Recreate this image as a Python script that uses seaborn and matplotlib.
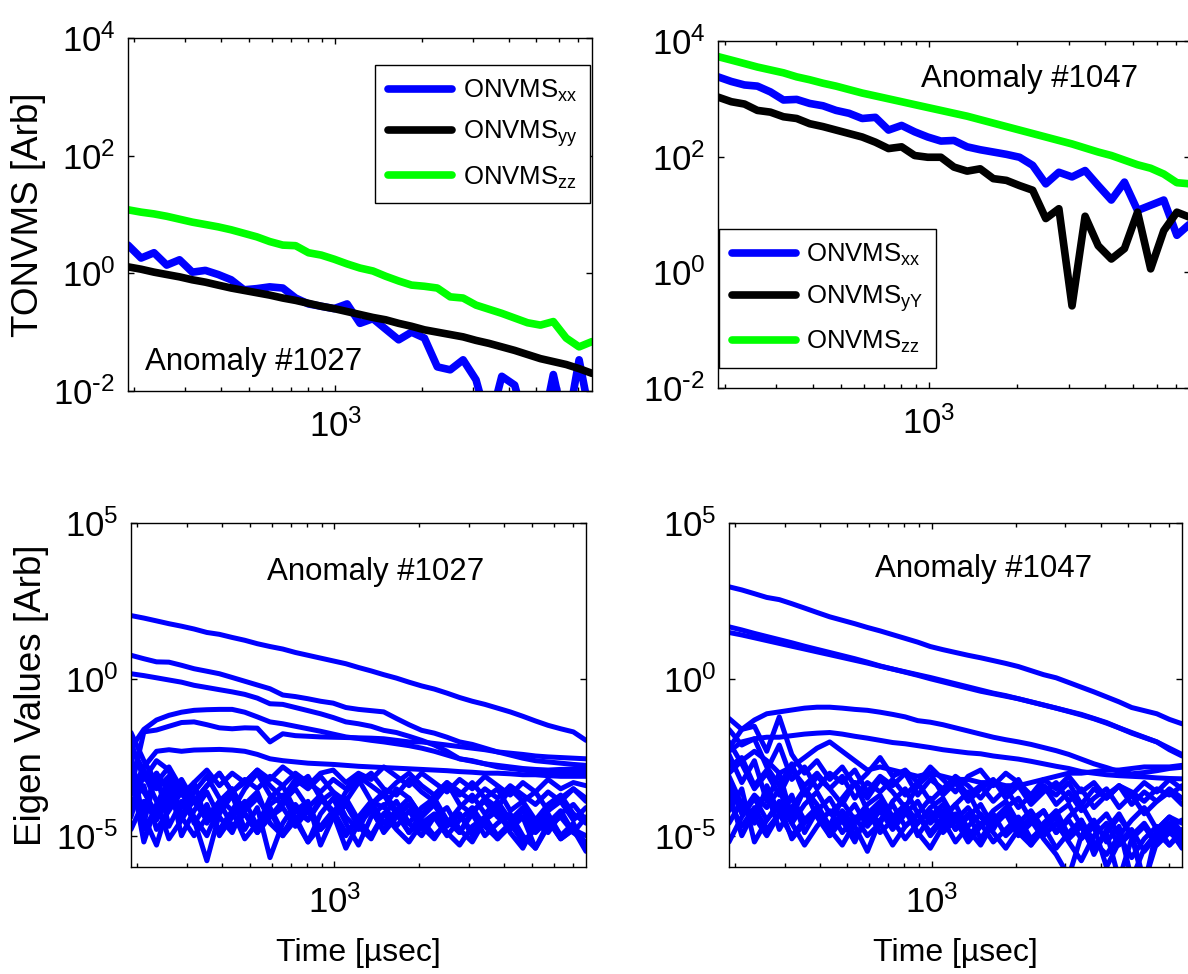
import numpy as np
import pandas as pd
import matplotlib
matplotlib.use("Agg")
import matplotlib.pyplot as plt
import seaborn as sns
from matplotlib.ticker import FixedLocator, LogLocator, NullFormatter, NullLocator, FuncFormatter

# ---------------------------------------------------------------- data
# time gates [usec]
time_us = [190, 211, 234, 259, 287, 318, 353, 391, 434, 481, 533, 591, 656, 727,
           806, 893, 990, 1098, 1217, 1350, 1496, 1659, 1839, 2039, 2261, 2507,
           2779, 3082, 3416, 3788, 4200, 4656, 5162, 5723, 6345, 7035, 7800]

# TONVMS components, log10 [Arb] -- anomaly #1027
a1027_xx = [0.48, 0.26, 0.35, 0.14, 0.23, 0.02, 0.05, -0.02, -0.11, -0.28, -0.26, -0.23, -0.25,
            -0.42, -0.52, -0.56, -0.60, -0.52, -0.85, -0.77, -0.95, -1.13, -1.00, -1.10, -1.59,
            -1.64, -1.47, -1.81, -2.60, -1.75, -1.90, -2.70, -2.80, -1.72, -2.70, -1.47, -2.60]
a1027_yy = [0.11, 0.07, 0.02, -0.02, -0.06, -0.11, -0.15, -0.20, -0.25, -0.29, -0.33, -0.37, -0.42,
            -0.46, -0.51, -0.56, -0.60, -0.65, -0.70, -0.75, -0.79, -0.85, -0.90, -0.96, -1.00,
            -1.04, -1.08, -1.14, -1.19, -1.25, -1.31, -1.38, -1.45, -1.50, -1.55, -1.62, -1.70]
a1027_zz = [1.08, 1.04, 1.01, 0.97, 0.92, 0.87, 0.83, 0.79, 0.74, 0.68, 0.62, 0.54, 0.48,
            0.47, 0.35, 0.31, 0.24, 0.16, 0.09, 0.04, -0.05, -0.13, -0.20, -0.22, -0.25,
            -0.40, -0.42, -0.54, -0.61, -0.68, -0.76, -0.84, -0.88, -0.82, -1.10, -1.25, -1.16]

# TONVMS components, log10 [Arb] -- anomaly #1047
a1047_xx = [3.38, 3.30, 3.24, 3.22, 3.12, 2.98, 2.99, 2.92, 2.88, 2.80, 2.75, 2.66, 2.68,
            2.46, 2.54, 2.43, 2.34, 2.27, 2.28, 2.17, 2.12, 2.08, 2.04, 1.99, 1.85,
            1.53, 1.73, 1.65, 1.76, 1.50, 1.25, 1.56, 1.07, 1.16, 1.25, 0.64, 0.84]
a1047_yy = [3.03, 2.95, 2.91, 2.80, 2.77, 2.69, 2.66, 2.57, 2.52, 2.46, 2.40, 2.34, 2.25,
            2.14, 2.17, 2.02, 1.99, 1.99, 1.82, 1.75, 1.79, 1.62, 1.59, 1.50, 1.42,
            0.93, 1.10, -0.58, 0.97, 0.46, 0.23, 0.41, 1.04, 0.06, 0.72, 1.04, 0.95]
a1047_zz = [3.73, 3.67, 3.61, 3.55, 3.50, 3.45, 3.38, 3.33, 3.27, 3.22, 3.16, 3.10, 3.05,
            3.00, 2.95, 2.90, 2.85, 2.80, 2.75, 2.70, 2.64, 2.58, 2.52, 2.46, 2.40,
            2.34, 2.28, 2.22, 2.15, 2.08, 2.02, 1.94, 1.86, 1.80, 1.70, 1.55, 1.53]

# eigenvalue decays, log10 [Arb] -- anomaly #1027
eig1027 = [
    [2.04, 1.96, 1.87, 1.78, 1.70, 1.61, 1.50, 1.44, 1.34, 1.25, 1.14, 1.05, 0.97, 0.86, 0.77, 0.68, 0.59, 0.50, 0.38,
     0.27, 0.15, 0.04, -0.09, -0.21, -0.31, -0.44, -0.58, -0.70, -0.80, -0.92, -1.04, -1.18, -1.33, -1.47, -1.58, -1.68, -1.95],
    [0.77, 0.66, 0.56, 0.55, 0.45, 0.34, 0.26, 0.18, 0.06, -0.06, -0.18, -0.30, -0.50, -0.55, -0.62, -0.70, -0.76, -0.90, -0.96,
     -1.00, -1.04, -1.25, -1.45, -1.63, -1.72, -1.85, -2.00, -2.08, -2.20, -2.32, -2.42, -2.52, -2.60, -2.64, -2.68, -2.72, -2.75],
    [0.18, 0.12, 0.05, -0.02, -0.09, -0.19, -0.26, -0.33, -0.40, -0.48, -0.60, -0.78, -0.80, -0.90, -1.00, -1.10, -1.22, -1.36, -1.42,
     -1.50, -1.63, -1.70, -1.82, -1.95, -2.10, -2.30, -2.54, -2.60, -2.70, -2.80, -2.85, -2.90, -2.95, -2.96, -2.96, -2.96, -2.96],
    [-2.2, -1.6, -1.3, -1.15, -1.05, -0.99, -0.97, -0.96, -0.96, -1.05, -1.2, -1.36, -1.42, -1.50, -1.58, -1.66, -1.75, -1.84, -1.89,
     -1.95, -2.0, -2.06, -2.12, -2.2, -2.3, -2.42, -2.54, -2.62, -2.70, -2.75, -2.80, -2.85, -2.88, -2.90, -2.88, -2.87, -2.86],
    [-3.5, -1.68, -1.62, -1.50, -1.38, -1.36, -1.45, -1.55, -1.58, -1.55, -1.56, -2.0, -1.74, -1.80, -1.82, -1.84, -1.85, -1.86, -1.87,
     -1.88, -1.90, -1.95, -2.0, -2.0, -2.05, -2.10, -2.15, -2.2, -2.25, -2.32, -2.36, -2.40, -2.45, -2.48, -2.50, -2.52, -2.54],
    [-3.6, -2.8, -2.3, -2.25, -2.3, -2.26, -2.25, -2.24, -2.26, -2.3, -2.4, -2.54, -2.60, -2.64, -2.68, -2.70, -2.72, -2.75, -2.78,
     -2.80, -2.82, -2.84, -2.86, -2.88, -2.9, -2.92, -2.95, -2.97, -3.0, -3.0, -3.02, -3.05, -3.05, -3.08, -3.1, -3.1, -3.1],
    [-1.7, -2.6, -3.3, -2.8, -3.5, -3.9, -3.4, -3.0, -3.6, -3.3, -2.9, -3.4, -3.8, -3.2, -3.5, -3.1, -3.6, -3.9, -3.3,
     -3.0, -3.5, -3.7, -3.2, -3.6, -3.9, -3.4, -3.7, -3.3, -3.8, -4.1, -3.5, -3.9, -3.6, -4.2, -3.8, -3.5, -3.9],
    [-2.0, -3.2, -2.6, -2.9, -4.4, -3.6, -3.1, -3.8, -4.2, -3.5, -3.0, -3.7, -4.0, -3.4, -3.1, -3.8, -4.3, -3.6, -3.2,
     -3.9, -4.1, -3.5, -3.8, -4.4, -3.7, -3.3, -4.0, -4.3, -3.8, -3.5, -4.2, -3.9, -4.5, -4.0, -3.7, -4.3, -4.6],
    [-2.4, -4.6, -3.0, -3.6, -4.1, -3.3, -4.6, -3.9, -3.5, -4.3, -4.7, -3.8, -3.4, -4.2, -4.5, -3.9, -3.6, -4.4, -4.8,
     -4.0, -3.7, -4.3, -4.6, -4.1, -3.8, -4.5, -4.9, -4.2, -3.9, -4.4, -4.7, -4.1, -4.6, -4.9, -4.3, -4.0, -4.5],
    [-3.0, -5.2, -4.0, -3.2, -5.0, -4.2, -3.6, -4.4, -4.9, -4.0, -3.6, -4.6, -5.0, -4.2, -3.9, -5.3, -4.4, -4.0, -4.7,
     -5.1, -4.3, -3.9, -4.6, -5.0, -4.4, -4.1, -4.8, -5.2, -4.5, -4.2, -4.9, -5.4, -4.6, -4.3, -5.0, -4.7, -5.3],
    [-3.5, -4.2, -3.0, -4.7, -3.9, -4.5, -5.8, -4.3, -3.7, -4.8, -4.1, -5.7, -4.6, -4.0, -4.5, -3.8, -4.2, -5.0, -4.4,
     -3.9, -4.6, -4.2, -4.9, -4.3, -4.0, -4.7, -4.3, -5.0, -4.5, -4.1, -4.8, -4.4, -5.4, -4.6, -4.2, -4.9, -4.4],
    [-4.0, -3.4, -4.8, -4.2, -3.6, -4.4, -5.0, -4.1, -3.5, -4.3, -4.9, -4.0, -3.7, -4.5, -5.2, -4.3, -3.8, -4.6, -5.3,
     -4.4, -4.0, -4.7, -4.2, -4.8, -4.4, -5.0, -4.5, -4.1, -4.7, -5.1, -4.6, -4.2, -4.8, -4.4, -5.0, -4.6, -5.4],
    [-4.4, -3.0, -3.9, -5.1, -4.5, -3.8, -4.3, -4.8, -4.2, -5.1, -4.6, -4.1, -4.9, -4.4, -5.2, -4.7, -4.2, -4.9, -4.5,
     -5.0, -4.3, -4.8, -5.2, -4.6, -4.3, -4.9, -5.3, -4.7, -4.4, -5.0, -4.6, -5.2, -4.8, -4.5, -5.1, -4.8, -5.0],
    [-2.8, -3.6, -4.3, -3.7, -3.2, -3.9, -3.4, -3.0, -3.6, -3.2, -3.5, -3.1, -3.4, -3.0, -3.3, -3.6, -3.2, -3.5, -3.1,
     -3.4, -3.7, -3.3, -3.0, -3.4, -3.7, -3.3, -3.6, -3.9, -3.5, -3.8, -3.4, -3.7, -4.0, -3.6, -3.9, -3.5, -3.8],
    [-3.2, -4.8, -4.1, -3.5, -4.3, -3.9, -4.5, -4.0, -3.6, -4.2, -3.8, -4.4, -3.9, -3.5, -4.1, -3.7, -4.3, -3.8, -4.5,
     -4.0, -3.6, -4.2, -3.8, -4.4, -4.0, -4.6, -4.1, -3.7, -4.3, -3.9, -4.5, -4.1, -4.7, -4.2, -3.9, -4.5, -4.1],
    [-3.8, -4.4, -5.3, -4.0, -3.4, -4.6, -4.0, -5.0, -4.4, -3.9, -4.7, -4.2, -5.0, -4.5, -4.0, -4.8, -4.3, -5.4, -4.6,
     -4.1, -4.9, -4.4, -4.0, -4.7, -5.1, -4.5, -4.9, -4.3, -5.0, -4.6, -4.3, -5.0, -5.4, -4.7, -4.4, -4.9, -5.2],
    [-2.2, -2.9, -3.5, -3.1, -3.7, -3.3, -2.9, -3.4, -3.0, -3.3, -2.9, -3.2, -2.8, -3.1, -3.4, -3.0, -2.9, -3.3, -3.0,
     -3.2, -2.8, -3.1, -3.4, -3.0, -3.3, -3.6, -3.2, -3.5, -3.1, -3.4, -3.7, -3.3, -3.6, -3.2, -3.5, -3.3, -3.4],
    [-4.8, -3.9, -4.5, -3.8, -4.4, -5.0, -4.4, -3.9, -4.7, -4.3, -4.9, -4.4, -4.1, -4.7, -4.2, -4.8, -4.4, -4.0, -4.6,
     -4.2, -4.8, -4.3, -4.9, -4.5, -5.0, -4.6, -4.3, -4.9, -4.5, -5.1, -4.7, -4.4, -4.9, -4.5, -5.1, -4.8, -5.5],
]

# eigenvalue decays, log10 [Arb] -- anomaly #1047
eig1047 = [
    [2.96, 2.86, 2.74, 2.62, 2.55, 2.42, 2.28, 2.14, 2.00, 1.89, 1.78, 1.66, 1.55, 1.43, 1.31, 1.19, 1.05, 0.95, 0.86,
     0.77, 0.69, 0.60, 0.51, 0.41, 0.28, 0.15, 0.05, -0.10, -0.25, -0.40, -0.56, -0.72, -0.90, -1.00, -1.10, -1.28, -1.42],
    [1.68, 1.58, 1.47, 1.37, 1.27, 1.17, 1.06, 0.96, 0.86, 0.76, 0.66, 0.55, 0.43, 0.33, 0.23, 0.13, 0.02, -0.08, -0.18,
     -0.28, -0.38, -0.46, -0.54, -0.62, -0.72, -0.82, -0.92, -1.02, -1.12, -1.25, -1.38, -1.55, -1.72, -1.86, -2.00, -2.20, -2.40],
    [1.50, 1.42, 1.33, 1.24, 1.15, 1.06, 0.97, 0.88, 0.79, 0.70, 0.61, 0.52, 0.42, 0.33, 0.24, 0.15, 0.06, -0.04, -0.14,
     -0.24, -0.34, -0.44, -0.52, -0.62, -0.72, -0.82, -0.92, -1.03, -1.14, -1.26, -1.40, -1.55, -1.70, -1.85, -2.00, -2.25, -2.45],
    [-2.2, -1.6, -1.3, -1.1, -1.04, -0.98, -0.92, -0.89, -0.89, -0.92, -0.96, -0.99, -1.05, -1.12, -1.20, -1.32, -1.37, -1.45, -1.55,
     -1.65, -1.75, -1.85, -1.93, -2.0, -2.08, -2.18, -2.28, -2.40, -2.55, -2.70, -2.82, -2.95, -3.02, -2.98, -2.92, -2.85, -2.81],
    [-2.3, -2.0, -1.9, -1.85, -1.85, -1.80, -1.75, -1.72, -1.70, -1.75, -1.82, -1.88, -1.95, -2.02, -2.06, -2.12, -2.18, -2.25, -2.30,
     -2.35, -2.38, -2.45, -2.50, -2.55, -2.62, -2.70, -2.78, -2.85, -2.95, -3.0, -3.05, -3.08, -3.10, -3.12, -3.15, -3.17, -3.18],
    [-3.0, -2.6, -2.3, -2.6, -3.0, -2.8, -2.5, -2.2, -2.0, -2.3, -2.6, -2.9, -2.8, -2.9, -3.0, -3.1, -3.0, -3.1, -3.2,
     -3.2, -3.3, -3.3, -3.4, -3.4, -3.3, -3.2, -3.1, -3.0, -3.0, -2.95, -2.9, -2.9, -2.85, -2.8, -2.8, -2.8, -2.75],
    [-1.25, -1.6, -1.5, -2.3, -1.2, -2.4, -3.0, -2.6, -3.2, -2.8, -3.4, -3.0, -2.5, -3.1, -2.9, -3.3, -2.8, -3.2, -3.6,
     -3.1, -2.9, -3.4, -3.0, -3.3, -3.7, -3.2, -3.5, -3.1, -3.6, -3.3, -3.8, -3.4, -3.6, -3.9, -3.5, -3.7, -3.4],
    [-1.6, -2.1, -1.9, -2.8, -3.4, -2.7, -3.7, -3.1, -3.5, -4.0, -3.3, -3.8, -3.2, -3.6, -4.1, -3.4, -3.0, -3.7, -3.3,
     -3.9, -3.5, -3.2, -3.8, -3.4, -4.0, -3.6, -3.3, -3.9, -3.5, -4.1, -3.7, -3.4, -4.0, -3.6, -3.9, -3.5, -3.8],
    [-2.4, -3.3, -2.6, -3.9, -3.0, -4.4, -3.5, -4.0, -4.7, -3.8, -3.3, -4.2, -4.6, -3.9, -3.5, -4.3, -3.8, -4.5, -4.0,
     -3.6, -4.4, -4.8, -4.1, -3.8, -4.5, -4.2, -4.9, -4.4, -4.0, -4.7, -4.3, -5.0, -4.5, -4.1, -4.8, -4.4, -4.6],
    [-3.1, -4.0, -4.6, -3.4, -4.3, -3.7, -4.9, -4.2, -3.8, -4.5, -5.2, -4.3, -3.9, -4.6, -4.1, -5.0, -4.4, -4.0, -4.8,
     -4.3, -5.1, -4.5, -4.1, -4.9, -5.3, -4.6, -4.2, -5.0, -4.5, -5.6, -4.8, -4.3, -5.0, -4.6, -5.2, -4.7, -4.5],
    [-3.6, -5.0, -4.2, -3.6, -4.8, -4.1, -3.5, -4.4, -5.0, -4.2, -4.7, -5.5, -4.5, -4.0, -4.7, -4.3, -4.9, -4.4, -4.0,
     -4.8, -5.3, -4.6, -4.2, -4.9, -4.5, -5.1, -5.6, -6.3, -5.0, -4.5, -5.2, -4.7, -6.4, -5.4, -4.9, -5.3, -4.8],
    [-4.2, -3.5, -5.2, -4.5, -3.9, -4.6, -5.3, -4.7, -4.2, -4.9, -4.4, -5.0, -4.6, -5.3, -4.7, -4.3, -5.0, -4.5, -5.2,
     -4.7, -4.3, -4.9, -5.4, -4.8, -4.4, -5.0, -4.6, -5.2, -5.8, -5.0, -4.6, -5.3, -4.9, -6.5, -5.2, -4.8, -5.4],
    [-5.2, -4.4, -3.8, -4.5, -4.0, -5.1, -4.6, -4.1, -4.8, -4.3, -5.0, -4.5, -4.0, -4.7, -4.2, -4.9, -5.4, -4.7, -4.3,
     -5.0, -4.6, -5.2, -4.8, -4.4, -5.1, -4.7, -5.4, -4.9, -4.5, -5.2, -5.6, -5.0, -5.7, -5.1, -4.7, -5.3, -4.9],
    [-2.8, -2.5, -3.4, -2.9, -2.1, -3.2, -2.8, -3.5, -3.0, -3.3, -2.9, -3.6, -3.1, -3.4, -3.0, -3.7, -3.2, -3.5, -3.1,
     -3.4, -3.8, -3.3, -3.6, -3.2, -3.9, -3.4, -3.7, -3.3, -4.0, -3.5, -3.8, -3.4, -3.7, -3.3, -3.6, -3.2, -3.5],
    [-4.6, -3.9, -4.4, -5.0, -4.3, -3.8, -4.5, -4.1, -5.0, -4.5, -4.0, -4.7, -4.2, -4.8, -4.3, -3.9, -4.6, -4.2, -4.8,
     -4.4, -4.0, -4.7, -4.3, -5.0, -4.6, -4.2, -4.9, -4.5, -5.1, -4.7, -6.0, -5.2, -4.8, -5.5, -5.0, -4.6, -5.1],
    [-3.3, -4.3, -3.7, -4.1, -3.5, -4.6, -4.0, -3.6, -4.3, -3.9, -4.5, -4.0, -3.7, -4.4, -4.0, -4.6, -4.1, -3.8, -4.5,
     -4.1, -4.7, -4.2, -3.9, -4.6, -4.2, -4.8, -4.3, -4.0, -4.7, -5.5, -4.9, -4.4, -5.0, -6.6, -4.8, -4.4, -4.9],
    [-2.0, -2.7, -3.5, -3.0, -3.7, -2.9, -3.4, -3.0, -3.5, -3.1, -3.8, -3.3, -3.6, -3.2, -3.7, -3.3, -3.9, -3.5, -3.2,
     -3.7, -3.4, -3.9, -3.5, -4.1, -3.7, -3.4, -4.0, -3.6, -4.2, -3.8, -3.5, -4.1, -3.7, -4.3, -3.9, -3.6, -4.0],
    [-3.9, -4.7, -4.1, -4.8, -4.3, -5.0, -4.5, -4.1, -4.8, -5.3, -4.6, -4.2, -4.9, -4.5, -5.1, -4.6, -4.2, -4.9, -4.5,
     -5.2, -4.7, -4.3, -5.0, -4.6, -5.3, -4.8, -4.4, -5.1, -4.7, -5.4, -4.9, -6.4, -5.1, -4.7, -5.3, -4.9, -5.2],
]

component_labels = [r"ONVMS$_{xx}$", r"ONVMS$_{yy}$", r"ONVMS$_{zz}$"]
component_labels_1047 = [r"ONVMS$_{xx}$", r"ONVMS$_{yY}$", r"ONVMS$_{zz}$"]
component_colors = ["#0000ff", "#000000", "#00ff00"]

# ---------------------------------------------------------------- style
sns.set_style("ticks")
plt.rcParams["font.family"] = ["Liberation Sans", "DejaVu Sans"]
plt.rcParams["mathtext.default"] = "regular"
plt.rcParams["axes.unicode_minus"] = False
plt.rcParams["axes.linewidth"] = 1.0
plt.rcParams["axes.edgecolor"] = "black"
plt.rcParams["text.color"] = "black"
plt.rcParams["axes.labelcolor"] = "black"
plt.rcParams["xtick.color"] = "black"
plt.rcParams["ytick.color"] = "black"

W, H = 1188, 974
fig = plt.figure(figsize=(W / 100, H / 100), dpi=100)


def px_axes(left, top, right, bottom):
    return fig.add_axes([left / W, 1 - bottom / H, (right - left) / W, (bottom - top) / H])


ax_tl = px_axes(128, 38, 592, 391)
ax_tr = px_axes(718, 41, 1190, 388)
ax_bl = px_axes(131, 523, 586, 867)
ax_br = px_axes(729, 523, 1182, 867)

t = np.array(time_us, dtype=float)


def decade_label(v, pos):
    # power-of-ten label with a plain hyphen for negative exponents
    e = int(round(np.log10(v)))
    exp = r"\text{-}" + str(-e) if e < 0 else str(e)
    return r"$10^{" + exp + "}$"


def style_axis(ax, yticks, ylim):
    ax.set_xscale("log")
    ax.set_yscale("log")
    ax.set_xlim(t[0], t[-1])
    ax.set_ylim(*ylim)
    ax.xaxis.set_major_locator(FixedLocator([1e3]))
    ax.xaxis.set_major_formatter(FuncFormatter(decade_label))
    ax.xaxis.set_minor_locator(LogLocator(base=10, subs=np.arange(2, 10)))
    ax.xaxis.set_minor_formatter(NullFormatter())
    ax.yaxis.set_major_locator(FixedLocator(yticks))
    ax.yaxis.set_major_formatter(FuncFormatter(decade_label))
    ax.yaxis.set_minor_locator(NullLocator())
    ax.tick_params(which="both", direction="in", top=True, right=True,
                   bottom=True, left=True, colors="black")
    ax.tick_params(which="major", length=4, width=1.0, labelsize=25)
    ax.tick_params(axis="x", which="major", pad=13)
    ax.tick_params(axis="y", which="major", pad=9)
    ax.tick_params(which="minor", length=3, width=1.0)
    for s in ax.spines.values():
        s.set_visible(True)
        s.set_color("black")
    ax.set_xlabel("")
    ax.set_ylabel("")


def draw_components(ax, series, labels):
    for vals, lab, col in zip(series, labels, component_colors):
        sns.lineplot(x=t, y=10 ** np.array(vals), ax=ax, color=col, lw=5.5, label=lab,
                     estimator=None, legend=False)


def draw_eigen(ax, curves):
    df = pd.DataFrame({
        "time": np.tile(t, len(curves)),
        "value": 10 ** np.concatenate([np.array(c, dtype=float) for c in curves]),
        "curve": np.repeat(np.arange(len(curves)), len(t)),
    })
    sns.lineplot(data=df, x="time", y="value", units="curve", estimator=None,
                 color="#0000ff", lw=3.6, ax=ax, legend=False)


# top row: TONVMS components
draw_components(ax_tl, [a1027_xx, a1027_yy, a1027_zz], component_labels)
draw_components(ax_tr, [a1047_xx, a1047_yy, a1047_zz], component_labels_1047)
for ax in (ax_tl, ax_tr):
    style_axis(ax, [1e-2, 1e0, 1e2, 1e4], (1e-2, 1e4))

# bottom row: eigenvalues
draw_eigen(ax_bl, eig1027)
draw_eigen(ax_br, eig1047)
for ax in (ax_bl, ax_br):
    style_axis(ax, [1e-5, 1e0, 1e5], (1e-6, 1e5))

legend_kw = dict(fontsize=18.5, frameon=True, fancybox=False, framealpha=1, edgecolor="black",
                 handlelength=2.5, handletextpad=0.4, labelspacing=0.58, borderpad=0.5,
                 borderaxespad=0)
leg = ax_tl.legend(loc="upper right", bbox_to_anchor=(0.996, 0.924), **legend_kw)
leg.get_frame().set_linewidth(1.0)
leg = ax_tr.legend(loc="upper left", bbox_to_anchor=(0.002, 0.458), **legend_kw)
leg.get_frame().set_linewidth(1.0)

# annotations
ax_tl.text(0.037, 0.06, "Anomaly #1027", transform=ax_tl.transAxes, fontsize=22.5,
           ha="left", va="baseline")
ax_tr.text(0.43, 0.867, "Anomaly #1047", transform=ax_tr.transAxes, fontsize=22.5,
           ha="left", va="baseline")
ax_bl.text(0.299, 0.834, "Anomaly #1027", transform=ax_bl.transAxes, fontsize=22.5,
           ha="left", va="baseline")
ax_br.text(0.322, 0.843, "Anomaly #1047", transform=ax_br.transAxes, fontsize=22.5,
           ha="left", va="baseline")

# axis titles
ax_tl.set_ylabel("TONVMS [Arb]", fontsize=26.5)
ax_tl.yaxis.set_label_coords(-0.177, 0.5)
ax_bl.set_ylabel("Eigen Values [Arb]", fontsize=26.5)
ax_bl.yaxis.set_label_coords(-0.18, 0.5)
for ax in (ax_bl, ax_br):
    ax.set_xlabel("Time [\u00b5sec]", fontsize=23)
    ax.xaxis.set_label_coords(0.5, -0.206)

fig.savefig("out.png", dpi=100, facecolor="white")
